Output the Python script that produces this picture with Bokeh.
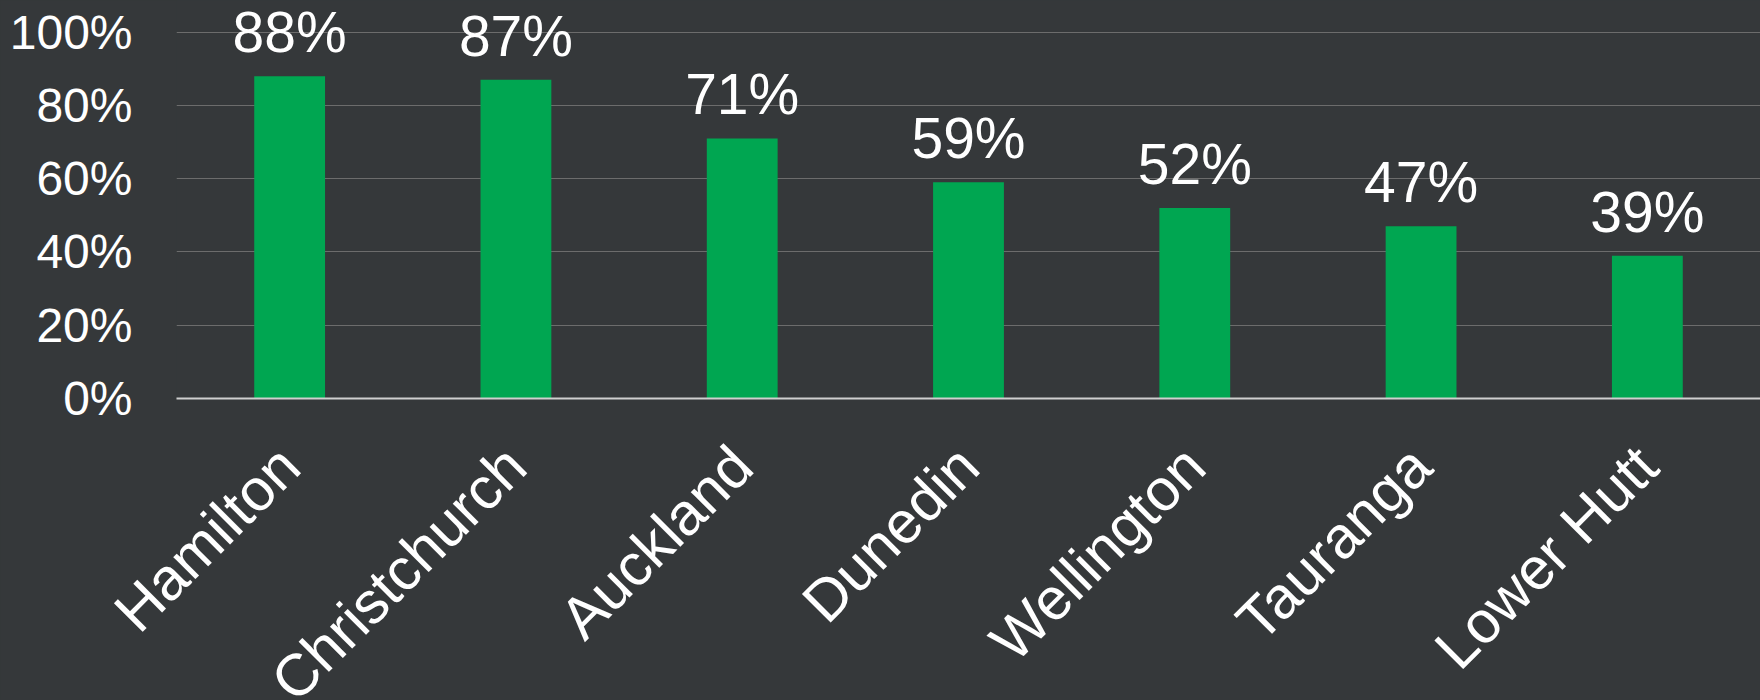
from math import pi
from bokeh.plotting import figure
from bokeh.models import ColumnDataSource, FixedTicker, PrintfTickFormatter, Range1d, FactorRange
from bokeh.core.properties import value
from bokeh.transform import dodge
from bokeh.embed import file_html
from bokeh.resources import INLINE

cities = ["Hamilton", "Christchurch", "Auckland", "Dunedin", "Wellington", "Tauranga", "Lower Hutt"]
shares = [88, 87, 71, 59, 52, 47, 39]
share_labels = ["88%", "87%", "71%", "59%", "52%", "47%", "39%"]
y_ticks = [0, 20, 40, 60, 80, 100]

BG = "#35383a"
GREEN = "#00a651"
FONT = "Liberation Sans"

src = ColumnDataSource(dict(city=cities, share=shares, label=share_labels))

p = figure(
    x_range=FactorRange(*cities),
    y_range=Range1d(0, 108.65),
    frame_width=1584, frame_height=398,
    output_backend="svg", toolbar_location=None,
    min_border_left=176, min_border_right=0, min_border_top=0, min_border_bottom=0,
    background_fill_color=BG, border_fill_color=BG,
)
p.outline_line_color = None

p.vbar(x="city", top="share", width=0.313, source=src, fill_color=GREEN, line_color=None)
p.text(x="city", y=dodge("share", 12.0, range=p.y_range), text="label", source=src,
       text_font=value(FONT), text_font_size="57px", text_color="white",
       text_align="center", text_baseline="alphabetic")

p.xgrid.grid_line_color = None
p.ygrid.grid_line_color = "#6c6c6c"
p.ygrid.grid_line_width = 1
p.yaxis.ticker = FixedTicker(ticks=y_ticks)
p.yaxis.formatter = PrintfTickFormatter(format="%d%%")
p.yaxis.axis_line_color = None
p.yaxis.major_tick_line_color = None
p.yaxis.minor_tick_line_color = None
p.yaxis.major_label_standoff = 38
p.yaxis.major_label_text_font = FONT
p.yaxis.major_label_text_font_size = "48px"
p.yaxis.major_label_text_color = "white"

p.xaxis.axis_line_color = "#cfcfcf"
p.xaxis.axis_line_width = 2
p.xaxis.major_tick_line_color = None
p.xaxis.minor_tick_line_color = None
p.xaxis.major_label_orientation = pi / 4
p.xaxis.major_label_standoff = 52
p.xaxis.major_label_text_font = FONT
p.xaxis.major_label_text_font_size = "59px"
p.xaxis.major_label_text_color = "white"

html = file_html(p, INLINE)
html = html.replace("<head>", "<head><style>html,body{background:%s;overflow:hidden;}</style>" % BG, 1)
open("out.html", "w").write(html)
